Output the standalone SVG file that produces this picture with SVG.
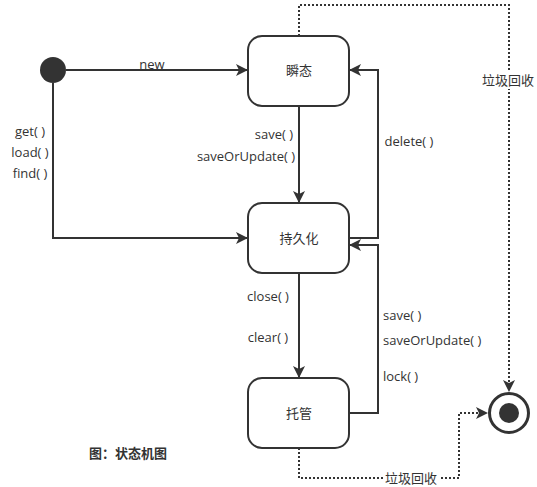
<svg xmlns="http://www.w3.org/2000/svg" width="537" height="487" viewBox="0 0 537 487">
<defs>
<marker id="arr" viewBox="0 0 12 12" refX="11" refY="6" markerWidth="12" markerHeight="12" markerUnits="userSpaceOnUse" orient="auto">
<path d="M0,0 L12,6 L0,12 L3,6 Z" fill="#333"/>
</marker>
<style>
.n{fill:#fff;stroke:#333;stroke-width:2}
.e{fill:none;stroke:#333;stroke-width:2}
.d{fill:none;stroke:#333;stroke-width:2;stroke-dasharray:2 2}
text{font-family:"Open Sans","Noto Sans CJK SC",sans-serif;font-size:13px;fill:#333}
.c{text-anchor:middle}
.cn{font-family:"Noto Sans CJK SC",sans-serif;font-size:13px}
</style>
</defs>
<rect width="537" height="487" fill="#fff"/>
<g id="connectors">
<path class="e" d="M66,70 H247" marker-end="url(#arr)"/>
<path class="e" d="M53,83 V238 H247" marker-end="url(#arr)"/>
<path class="e" d="M299,106 V202" marker-end="url(#arr)"/>
<path class="e" d="M299,273 V377" marker-end="url(#arr)"/>
<path class="e" d="M349,238 H378 V70 H350" marker-end="url(#arr)"/>
<path class="e" d="M349,413 H378 V245 H350" marker-end="url(#arr)"/>
<path class="d" d="M299,36 V5 H509 V391" marker-end="url(#arr)"/>
<path class="d" d="M299,448 V478 H459 V413 H487" marker-end="url(#arr)"/>
<text x="152" y="69" class="c">new</text>
<text x="30" y="136" class="c">get( )</text>
<text x="30" y="157" class="c">load( )</text>
<text x="30" y="178" class="c">find( )</text>
<text x="274" y="139" class="c">save( )</text>
<text x="246" y="161" class="c">saveOrUpdate( )</text>
<text x="409" y="146" class="c">delete( )</text>
<text x="268" y="301" class="c">close( )</text>
<text x="268" y="342" class="c">clear( )</text>
<text x="383" y="320">save( )</text>
<text x="383" y="345">saveOrUpdate( )</text>
<text x="383" y="381">lock( )</text>
<rect x="481" y="71" width="56" height="18" fill="#fff"/>
<text x="508" y="85" class="c cn">垃圾回收</text>
<rect x="383" y="469" width="56" height="18" fill="#fff"/>
<text x="411" y="483" class="c cn">垃圾回收</text>
</g>
<g id="initial">
<circle cx="53" cy="70" r="13" fill="#333"/>
</g>
<g id="transient">
<rect class="n" x="248" y="36" width="101" height="70" rx="14"/>
<text x="299" y="75" class="c cn">瞬态</text>
</g>
<g id="persistent">
<rect class="n" x="248" y="203" width="101" height="70" rx="14"/>
<text x="299" y="243" class="c cn">持久化</text>
</g>
<g id="detached">
<rect class="n" x="248" y="378" width="101" height="70" rx="14"/>
<text x="299" y="418" class="c cn">托管</text>
</g>
<g id="final">
<circle cx="509" cy="413" r="19.5" fill="#fff" stroke="#333" stroke-width="3"/>
<circle cx="509" cy="413" r="10" fill="#333"/>
</g>
<g id="caption">
<text x="89" y="458" class="cn" font-weight="bold">图：状态机图</text>
</g>
</svg>
